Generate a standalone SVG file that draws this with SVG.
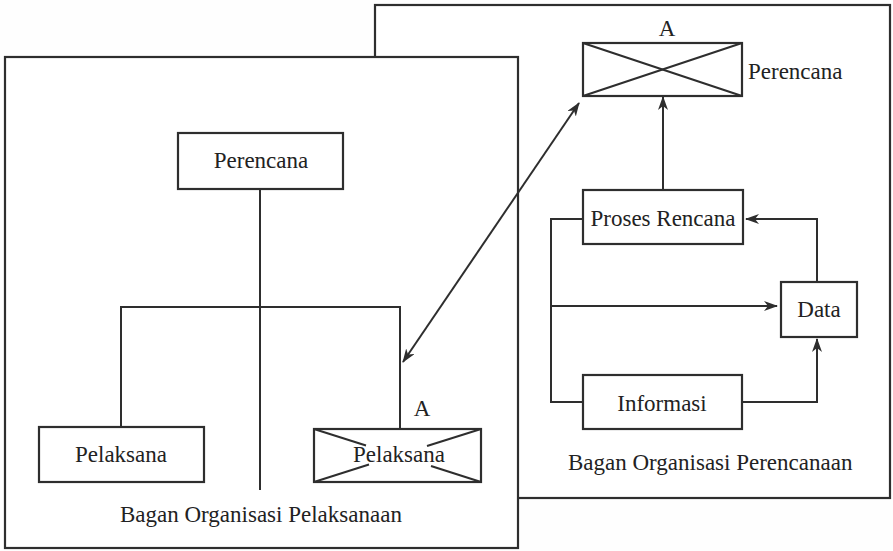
<svg xmlns="http://www.w3.org/2000/svg" width="893" height="551" viewBox="0 0 893 551">
<style>
.panel{fill:#fff;stroke:#2e2e2e;stroke-width:2.2}
.box{fill:#fff;stroke:#2e2e2e;stroke-width:2.2}
.ln{fill:none;stroke:#2e2e2e;stroke-width:2}
.arr{fill:none;stroke:#2e2e2e;stroke-width:2;marker-end:url(#ah)}
.t{font-family:"Liberation Serif","Times New Roman",serif;font-size:23px;fill:#222}
.c{text-anchor:middle}
</style>
<defs>
<marker id="ah" viewBox="0 0 14 10" refX="13" refY="5" markerWidth="14" markerHeight="10" markerUnits="userSpaceOnUse" orient="auto-start-reverse">
<path d="M0,0 L14,5 L0,10 L4,5 z" fill="#2e2e2e"/>
</marker>
</defs>
<rect width="893" height="551" fill="#fefefe"/>
<g id="panel-perencanaan">
<rect class="panel" x="375" y="5" width="515" height="493"/>
<text class="t" x="568" y="470">Bagan Organisasi Perencanaan</text>
</g>
<g id="panel-pelaksanaan">
<rect class="panel" x="5" y="57" width="513" height="491"/>
<text class="t" x="120" y="522">Bagan Organisasi Pelaksanaan</text>
</g>
<g id="connectors">
<polyline class="ln" points="260,189 260,490"/>
<polyline class="ln" points="121,427 121,307 400,307 400,429"/>
<line class="ln" x1="403" y1="362" x2="579" y2="103" style="marker-start:url(#ah);marker-end:url(#ah)"/>
<line class="arr" x1="663" y1="190" x2="663" y2="97"/>
<polyline class="ln" points="583,219 551,219 551,402 583,402"/>
<line class="arr" x1="551" y1="306" x2="777" y2="306"/>
<polyline class="arr" points="817,282 817,219 746,219"/>
<polyline class="arr" points="742,402 817,402 817,339"/>
</g>
<g id="node-perencana-left">
<rect class="box" x="178" y="133" width="165" height="56"/>
<text class="t c" x="261" y="168">Perencana</text>
</g>
<g id="node-pelaksana-left">
<rect class="box" x="39" y="427" width="165" height="55"/>
<text class="t c" x="121" y="462">Pelaksana</text>
</g>
<g id="node-pelaksana-a">
<rect class="box" x="314" y="429" width="167" height="53"/>
<line class="ln" x1="314" y1="429" x2="366" y2="445.5"/>
<line class="ln" x1="481" y1="482" x2="431" y2="466"/>
<line class="ln" x1="481" y1="429" x2="427" y2="446"/>
<line class="ln" x1="314" y1="482" x2="369" y2="464.5"/>
<text class="t c" x="399" y="462">Pelaksana</text>
<text class="t c" x="422" y="416">A</text>
</g>
<g id="node-perencana-a">
<rect class="box" x="583" y="43" width="159" height="53"/>
<line class="ln" x1="583" y1="43" x2="742" y2="96"/>
<line class="ln" x1="742" y1="43" x2="583" y2="96"/>
<text class="t c" x="667" y="36">A</text>
<text class="t" x="748" y="79">Perencana</text>
</g>
<g id="node-proses">
<rect class="box" x="583" y="190" width="160" height="54"/>
<text class="t c" x="663" y="226">Proses Rencana</text>
</g>
<g id="node-data">
<rect class="box" x="781" y="282" width="76" height="55"/>
<text class="t c" x="819" y="317">Data</text>
</g>
<g id="node-informasi">
<rect class="box" x="583" y="375" width="159" height="54"/>
<text class="t c" x="662" y="411">Informasi</text>
</g>
</svg>
